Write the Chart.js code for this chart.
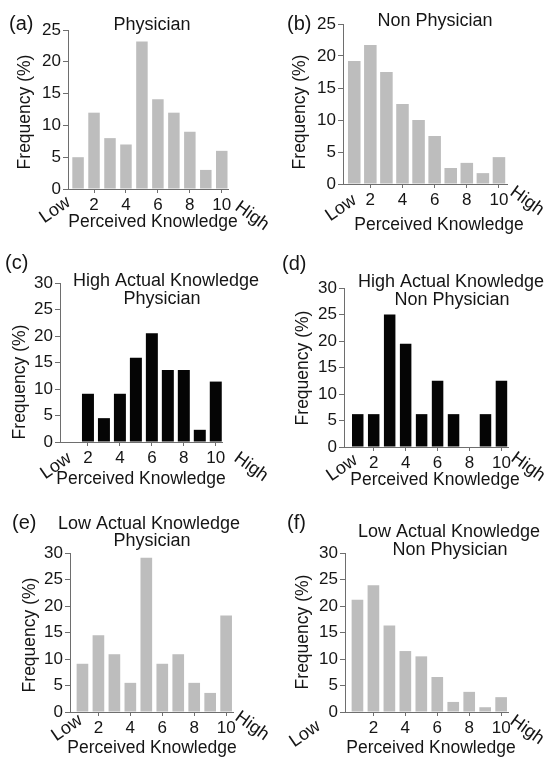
<!DOCTYPE html>
<html>
<head>
<meta charset="utf-8">
<script src="https://cdn.jsdelivr.net/npm/chart.js@4.4.0/dist/chart.umd.min.js"></script>
<style>
  body { margin: 0; background: #fff; }
  #wrap { position: relative; width: 550px; height: 761px; }
  canvas { position: absolute; }
</style>
</head>
<body>
<div id="wrap">
  <canvas id="pa" width="275" height="250" style="left:0;top:0"></canvas>
  <canvas id="pb" width="275" height="250" style="left:275px;top:0"></canvas>
  <canvas id="pc" width="275" height="250" style="left:0;top:250px"></canvas>
  <canvas id="pd" width="275" height="250" style="left:275px;top:250px"></canvas>
  <canvas id="pe" width="275" height="261" style="left:0;top:500px"></canvas>
  <canvas id="pf" width="275" height="261" style="left:275px;top:500px"></canvas>
</div>
<script>
// perceived knowledge levels 1..10, frequencies in %
const levels = [1, 2, 3, 4, 5, 6, 7, 8, 9, 10];
const xTicks = [2, 4, 6, 8, 10];
const physician = [5, 12, 8, 7, 23.2, 14.1, 12, 9, 3, 6];
const nonPhysician = [19.2, 21.7, 17.5, 12.5, 10, 7.5, 2.5, 3.3, 1.7, 4.2];
const highPhysician = [0, 9.1, 4.5, 9.1, 15.9, 20.5, 13.6, 13.6, 2.3, 11.4];
const highNonPhysician = [6.2, 6.2, 25, 19.5, 6.2, 12.5, 6.2, 0, 6.2, 12.5];
const lowPhysician = [9.1, 14.5, 10.9, 5.5, 29.1, 9.1, 10.9, 5.5, 3.6, 18.2];
const lowNonPhysician = [21.2, 23.9, 16.3, 11.5, 10.5, 6.6, 1.9, 3.8, 0.9, 2.8];

const FONT = '"Liberation Sans", Arial, sans-serif';
const INK = '#151515';
const AXIS = '#6e6e6e';
const GRAY = '#bdbdbd';
const BLACK = '#050505';

// layout of each panel (canvas-local px)
const panels = [
  { id: 'pa', data: physician, color: GRAY, yMax: 25, tag: '(a)', title: ['Physician'],
    area: [68, 228, 30, 189], xr: [0.37, 10.39], bar: 0.72,
    tagPos: [9, 24], titlePos: [[152, 25]], yTitle: [25, 112], xTitle: [153, 222],
    low: [55, 210], high: [252, 216] },
  { id: 'pb', data: nonPhysician, color: GRAY, yMax: 25, tag: '(b)', title: ['Non Physician'],
    area: [68, 232, 24, 184], xr: [0.30, 10.5], bar: 0.78,
    tagPos: [12, 24], titlePos: [[160, 21]], yTitle: [25, 112], xTitle: [164, 225],
    low: [66, 208], high: [252, 201] },
  { id: 'pc', data: highPhysician, color: BLACK, yMax: 30, tag: '(c)', title: ['High Actual Knowledge', 'Physician'],
    area: [60, 222, 33, 192], xr: [0.25, 10.39], bar: 0.75,
    tagPos: [5, 13], titlePos: [[166, 31], [162, 49]], yTitle: [20, 132], xTitle: [141, 229],
    low: [56, 216], high: [251, 217] },
  { id: 'pd', data: highNonPhysician, color: BLACK, yMax: 30, tag: '(d)', title: ['High Actual Knowledge', 'Non Physician'],
    area: [69, 233, 38, 197], xr: [0.14, 10.41], bar: 0.72,
    tagPos: [7, 14], titlePos: [[176, 32], [177, 50]], yTitle: [28, 118], xTitle: [160, 230],
    low: [67, 218], high: [253, 217] },
  { id: 'pe', data: lowPhysician, color: GRAY, yMax: 30, tag: '(e)', title: ['Low Actual Knowledge', 'Physician'],
    area: [70, 233, 53, 212], xr: [0.22, 10.43], bar: 0.73,
    tagPos: [12, 23], titlePos: [[149, 24], [152, 41]], yTitle: [30, 135], xTitle: [152, 248],
    low: [67, 228], high: [252, 226] },
  { id: 'pf', data: lowNonPhysician, color: GRAY, yMax: 30, tag: '(f)', title: ['Low Actual Knowledge', 'Non Physician'],
    area: [70, 233, 53, 212], xr: [0.22, 10.43], bar: 0.73,
    tagPos: [12, 23], titlePos: [[174, 32], [175, 50]], yTitle: [28, 132], xTitle: [156, 248],
    low: [30, 234], high: [252, 230] }
];

const panelText = {
  id: 'panelText',
  afterDraw(chart, args, o) {
    const ctx = chart.ctx;
    ctx.save();
    ctx.fillStyle = INK;
    ctx.textBaseline = 'middle';

    ctx.font = '20px ' + FONT;
    ctx.textAlign = 'left';
    ctx.fillText(o.tag, o.tagPos[0], o.tagPos[1]);

    ctx.textAlign = 'center';
    ctx.font = '18px ' + FONT;
    o.title.forEach((t, i) => ctx.fillText(t, o.titlePos[i][0], o.titlePos[i][1]));

    ctx.font = '17.5px ' + FONT;
    ctx.fillText('Perceived Knowledge', o.xTitle[0], o.xTitle[1]);

    ctx.save();
    ctx.translate(o.yTitle[0], o.yTitle[1]);
    ctx.rotate(-Math.PI / 2);
    ctx.fillText('Frequency (%)', 0, 0);
    ctx.restore();

    ctx.font = '18px ' + FONT;
    ctx.save();
    ctx.translate(o.low[0], o.low[1]);
    ctx.rotate(-0.6);
    ctx.fillText('Low', 0, 0);
    ctx.restore();

    ctx.save();
    ctx.translate(o.high[0], o.high[1]);
    ctx.rotate(0.62);
    ctx.fillText('High', 0, 0);
    ctx.restore();

    ctx.restore();
  }
};

panels.forEach(p => {
  const cv = document.getElementById(p.id);
  const [l, r, t, b] = p.area;
  new Chart(cv.getContext('2d'), {
    type: 'bar',
    data: {
      labels: levels,
      datasets: [{
        data: p.data,
        backgroundColor: p.color,
        borderWidth: 0,
        categoryPercentage: 1,
        barPercentage: p.bar
      }]
    },
    options: {
      responsive: false,
      animation: false,
      layout: { padding: { left: 0, top: t, right: cv.width - r, bottom: 0 } },
      plugins: {
        legend: { display: false },
        tooltip: { enabled: false },
        panelText: p
      },
      scales: {
        x: {
          type: 'linear',
          min: p.xr[0],
          max: p.xr[1],
          offset: false,
          afterBuildTicks: s => { s.ticks = xTicks.map(v => ({ value: v })); },
          afterFit: s => { s.height = cv.height - b; },
          grid: { drawOnChartArea: false, offset: false, tickLength: 4, color: AXIS },
          border: { display: true, color: AXIS, width: 1 },
          ticks: { color: INK, font: { family: FONT, size: 17 }, padding: 2, maxRotation: 0, autoSkip: false }
        },
        y: {
          min: 0,
          max: p.yMax,
          afterFit: s => { s.width = l; },
          grid: { drawOnChartArea: false, tickLength: 5, color: AXIS },
          border: { display: true, color: AXIS, width: 1 },
          ticks: { stepSize: 5, color: INK, font: { family: FONT, size: 17 }, padding: 2 }
        }
      }
    },
    plugins: [panelText]
  });
});
</script>
</body>
</html>
